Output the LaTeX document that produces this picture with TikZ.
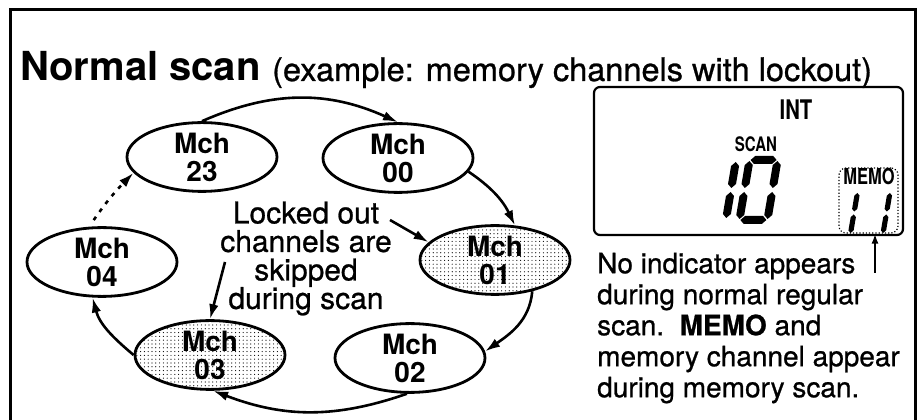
\documentclass[tikz,border=0pt]{standalone}
\usepackage{fontspec}
\setmainfont{TeX Gyre Heros}
\newfontfamily\cond[FakeStretch=0.75]{TeX Gyre Heros}
\newfontfamily\heavy[FakeBold=0.8]{TeX Gyre Heros}
\usetikzlibrary{shapes.geometric,arrows.meta,patterns}
\pgfdeclarepatternformonly{mydots}{\pgfqpoint{-1pt}{-1pt}}{\pgfqpoint{2.8pt}{2.8pt}}{\pgfqpoint{3.8pt}{3.8pt}}{\pgfpathcircle{\pgfqpoint{0pt}{0pt}}{0.6pt}\pgfusepath{fill}}
\newcommand\segt{4}
\newcommand\segv[3]{\fill (#1,#2) -- (#1+\segt,#2+\segt) -- (#1+\segt,#3-\segt) -- (#1,#3) -- (#1-\segt,#3-\segt) -- (#1-\segt,#2+\segt) -- cycle;}
\newcommand\segh[3]{\fill (#2,#1) -- (#2+\segt,#1+\segt) -- (#3-\segt,#1+\segt) -- (#3,#1) -- (#3-\segt,#1-\segt) -- (#2+\segt,#1-\segt) -- cycle;}
\begin{document}
\begin{tikzpicture}[x=1pt,y=1pt,
  ell/.style={draw, line width=2.8pt, ellipse, minimum width=150pt, minimum height=63pt, inner sep=0pt, align=center, font=\bfseries\fontsize{28}{28}\selectfont},
  lock/.style={ell, pattern=mydots},
  arr/.style={line width=2.6pt, -{Latex[length=15pt,width=9.5pt]}},
  lbl/.style={inner sep=0pt}
]
\useasboundingbox (0,0) rectangle (922,420);
% frame
\draw[line width=3pt] (10,0) -- (10,410) -- (915,410) -- (915,0);
% title
\node[lbl, anchor=base west, font=\bfseries\fontsize{40}{40}\selectfont] (title) at (20,339) {Normal scan};
\node[lbl, anchor=base west, font=\heavy\fontsize{32.5}{32.5}\selectfont] (sub) at (272,339) {(example: memory channels with lockout)};
% channels
\node[ell] (m23) at (202,263) {Mch\\23};
\node[ell] (m00) at (398,262) {Mch\\00};
\node[ell] (m04) at (102,158) {Mch\\04};
\node[lock] (m01) at (495,160) {Mch\\01};
\node[lock] (m03) at (210,65) {Mch\\03};
\node[ell] (m02) at (410,62) {Mch\\02};
% scan path
\draw[arr] (m23.north) to[bend left=24] (m00.north);
\draw[arr] (m00.-11) to[bend left=15] (m01.60);
\draw[arr] (m01.-40) to[out=-95,in=35] (m02.5);
\draw[arr] (m02.-95) to[bend left=20] (m03.-85);
\draw[arr] (m03.west) to[out=140,in=-75] (m04.-105);
\draw[arr, dash pattern=on 4pt off 6pt, shorten <=8pt] (m04.110) to[bend left=5] (m23.193);
% locked out note
\node[lbl, align=center, font=\heavy\fontsize{30}{28.5}\selectfont] (lk) at (306,161.5) {Locked out\\channels are\\skipped\\during scan};
\coordinate (la) at (390,200);
\coordinate (lb) at (225,158);
\draw[arr] (la) -- (m01.165);
\draw[arr] (lb) -- (m03.north);
% display
\node[draw, line width=2.2pt, rounded corners=6pt, minimum width=309pt, minimum height=148pt, inner sep=0pt] (lcd) at (748.5,259) {};
\node[lbl, anchor=base, font=\cond\bfseries\fontsize{27}{27}\selectfont] (int) at (796,300) {INT};
\node[lbl, anchor=base, font=\cond\bfseries\fontsize{20}{20}\selectfont] (scan) at (756,268) {SCAN};
\node[draw, dotted, line width=1.2pt, rounded corners=7pt, minimum width=59pt, minimum height=65pt, inner sep=0pt] (memobox) at (868.5,219.5) {};
\node[lbl, anchor=base, font=\cond\bfseries\fontsize{22}{22}\selectfont] (memo) at (869,235) {MEMO};
% seven-segment digits "10"
\begin{scope}[shift={(731,230)}, xslant=0.17]
  \segv{0}{2}{28} \segv{0}{-28}{-2}
\end{scope}
\begin{scope}[shift={(758.5,230)}, xslant=0.17]
  \segv{-14}{2}{29} \segv{-14}{-29}{-2}
  \segv{14}{2}{29} \segv{14}{-29}{-2}
  \segh{30}{-13}{13} \segh{-30}{-13}{13}
\end{scope}
% digits "11"
\renewcommand\segt{2.6}
\begin{scope}[shift={(854,207)}, xslant=0.17]
  \segv{0}{1.5}{20} \segv{0}{-20}{-1.5}
\end{scope}
\begin{scope}[shift={(886.5,207)}, xslant=0.17]
  \segv{0}{1.5}{20} \segv{0}{-20}{-1.5}
\end{scope}
% right note
\node[lbl, anchor=north west, align=left, font=\heavy\fontsize{28}{31}\selectfont] (note) at (597,167.4) {No indicator appears\\during normal regular\\scan.\ \ \textbf{MEMO} and\\memory channel appear\\during memory scan.};
\coordinate (na) at (875,147);
\draw[line width=2pt, -{Latex[length=10pt,width=7pt]}] (na) -- (na |- memobox.south);
\end{tikzpicture}
\end{document}
